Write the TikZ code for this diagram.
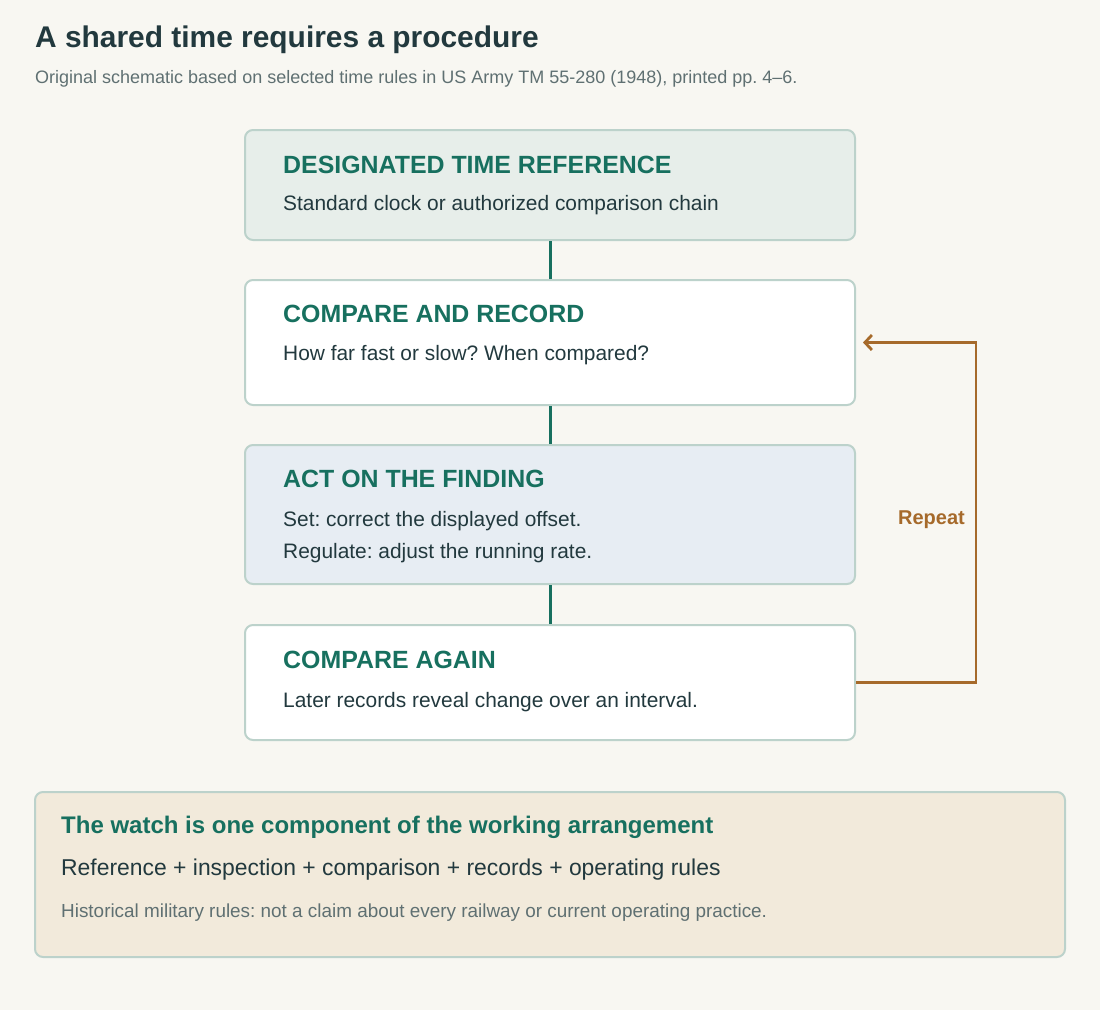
\documentclass[tikz,border=0pt]{standalone}
\usepackage{fontspec}
\setmainfont{Liberation Sans}
\usetikzlibrary{arrows.meta}
\frenchspacing
\definecolor{bgc}{HTML}{F8F7F2}
\definecolor{fillA}{HTML}{E7EEEA}
\definecolor{fillB}{HTML}{E7EDF3}
\definecolor{fillC}{HTML}{F2EADB}
\definecolor{bordc}{HTML}{BCD2CB}
\definecolor{tealc}{HTML}{17705F}
\definecolor{darkc}{HTML}{22393E}
\definecolor{greyc}{HTML}{5F7072}
\definecolor{orangec}{HTML}{A66A2B}
\tikzset{
  stepbox/.style={draw=bordc, line width=2pt, rounded corners=8pt, minimum width=610pt, inner sep=0pt},
  boxtitle/.style={anchor=base west, inner sep=0pt, text=tealc, font=\fontsize{24.9}{28}\selectfont\bfseries},
  boxbody/.style={anchor=base west, inner sep=0pt, text=darkc, font=\fontsize{20.9}{24}\selectfont},
  link/.style={draw=tealc, line width=3pt},
  loopline/.style={draw=orangec, line width=2.8pt, -{Straight Barb[length=7pt,width=15pt,line width=2.8pt]}},
}
\begin{document}
\begin{tikzpicture}[x=1pt,y=-1pt]
\useasboundingbox (0,0) rectangle (1100,1010);
\fill[bgc] (0,0) rectangle (1100,1010);

% heading
\node[anchor=base west, inner sep=0pt, text=darkc, font=\fontsize{29.9}{32}\selectfont\bfseries] (title) at (35,47.5) {A shared time requires a procedure};
\node[anchor=base west, inner sep=0pt, text=greyc, font=\fontsize{18}{21}\selectfont] (subtitle) at (35,83.3) {Original schematic based on selected time rules in US Army TM 55-280 (1948), printed pp. 4–6.};

% boxes
\node[stepbox, fill=fillA, minimum height=110pt] (b1) at (550,185) {};
\node[stepbox, fill=white, minimum height=125pt] (b2) at (550,342.5) {};
\node[stepbox, fill=fillB, minimum height=139pt] (b3) at (550,514.5) {};
\node[stepbox, fill=white, minimum height=115pt] (b4) at (550,682.5) {};

% connectors
\draw[link] (b1.south) -- (b2.north);
\draw[link] (b2.south) -- (b3.north);
\draw[link] (b3.south) -- (b4.north);

% box texts
\node[boxtitle] (t1) at (283,173.5) {DESIGNATED TIME REFERENCE};
\node[boxbody] (d1) at (283,210) {Standard clock or authorized comparison chain};
\node[boxtitle] (t2) at (283,322.5) {COMPARE AND RECORD};
\node[boxbody] (d2) at (283,360) {How far fast or slow? When compared?};
\node[boxtitle] (t3) at (283,487.5) {ACT ON THE FINDING};
\node[boxbody] (d3a) at (283,526) {Set: correct the displayed offset.};
\node[boxbody] (d3b) at (283,558) {Regulate: adjust the running rate.};
\node[boxtitle] (t4) at (283,668.5) {COMPARE AGAIN};
\node[boxbody] (d4) at (283,707) {Later records reveal change over an interval.};

% repeat loop
\coordinate (loopend) at ([xshift=7pt]b2.east);
\draw[loopline] (b4.east) -- ++(120,0) |- (loopend);
\node[anchor=base east, inner sep=0pt, text=orangec, font=\fontsize{20}{23}\selectfont\bfseries] (rep) at (965,524) {Repeat};

% bottom panel
\node[draw=bordc, line width=2pt, rounded corners=8pt, fill=fillC, minimum width=1030pt, minimum height=165pt, inner sep=0pt] (panel) at (550,874.5) {};
\node[anchor=base west, inner sep=0pt, text=tealc, font=\fontsize{24}{28}\selectfont\bfseries] (pt) at (61,833.5) {The watch is one component of the working arrangement};
\node[anchor=base west, inner sep=0pt, text=darkc, font=\fontsize{22.9}{26}\selectfont] (pb) at (61,875) {Reference + inspection + comparison + records + operating rules};
\node[anchor=base west, inner sep=0pt, text=greyc, font=\fontsize{18.9}{22}\selectfont] (pn) at (61,917.5) {Historical military rules: not a claim about every railway or current operating practice.};
\end{tikzpicture}
\end{document}
